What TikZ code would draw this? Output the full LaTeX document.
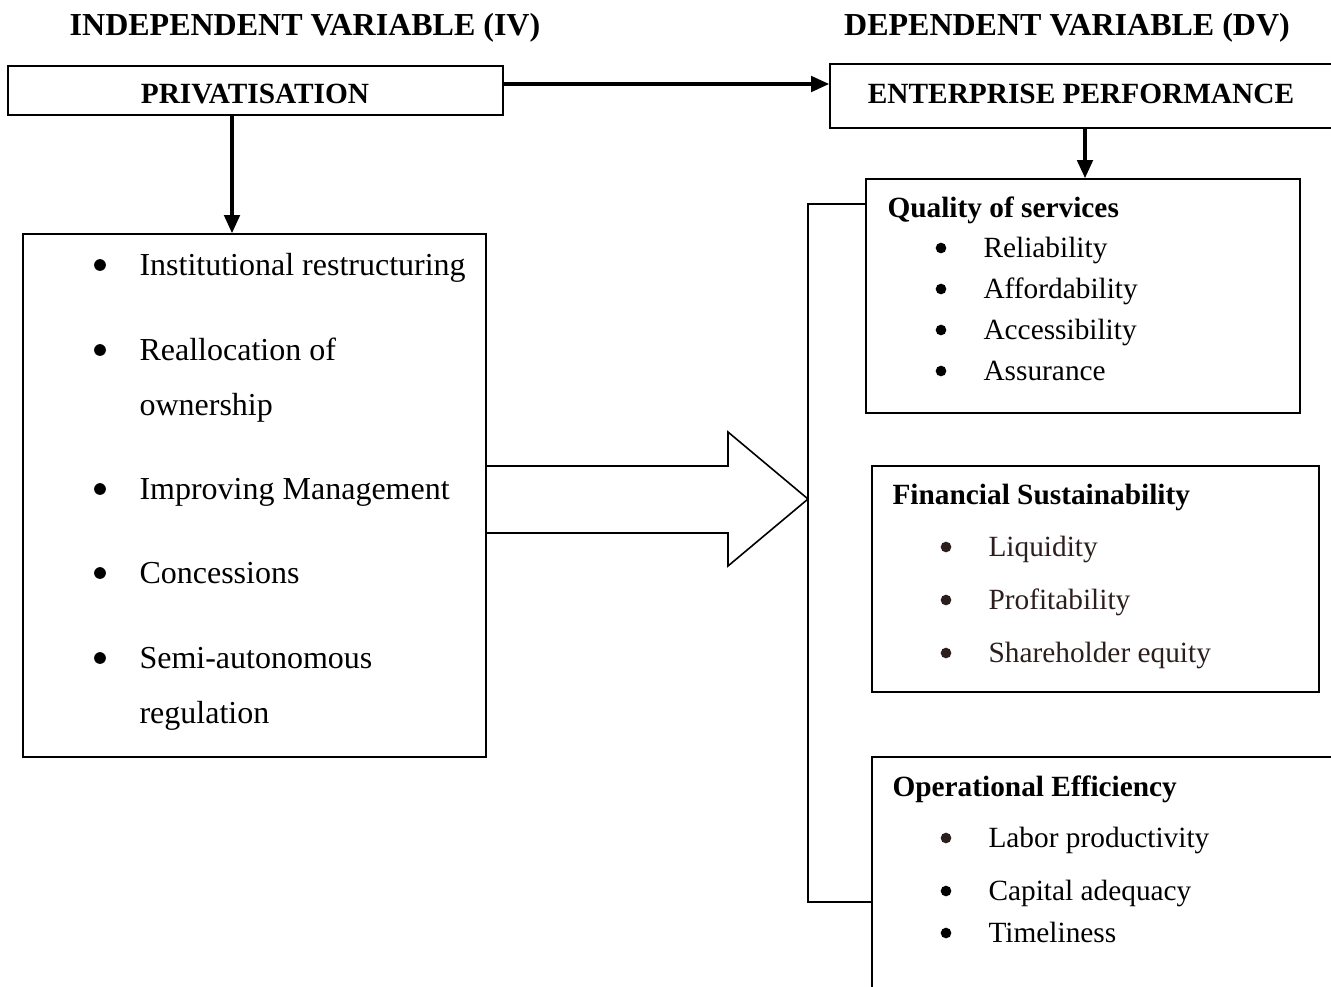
\documentclass[tikz,border=0pt]{standalone}
\usepackage{fontspec}
\setmainfont{Liberation Serif}
\usetikzlibrary{arrows.meta,calc}
\definecolor{dbrown}{RGB}{45,30,30}
\tikzset{
  box/.style={draw, line width=0.6pt, rectangle, inner sep=0pt},
  arr/.style={line width=1.3pt, -{Triangle[length=6.8pt,width=5.8pt]}},
  thin/.style={line width=0.6pt},
  head/.style={font=\fontsize{12}{14}\selectfont\bfseries, anchor=base},
  litem/.style={font=\fontsize{12}{14}\selectfont, anchor=base west, inner sep=0pt},
  lbul/.style={circle, fill, inner sep=0pt, minimum size=4.4pt},
  rtitle/.style={font=\fontsize{11}{13}\selectfont\bfseries, anchor=base west, inner sep=0pt},
  ritem/.style={font=\fontsize{11}{13}\selectfont, anchor=base west, inner sep=0pt},
  rbul/.style={circle, fill, inner sep=0pt, minimum size=4pt},
}
\begin{document}
\begin{tikzpicture}[x=0.375pt,y=-0.375pt]
\useasboundingbox (0,0) rectangle (1331,986);
% headings
\node[head] (hiv) at (305,35) {INDEPENDENT VARIABLE (IV)};
\node[head] (hdv) at (1067,35) {DEPENDENT VARIABLE (DV)};
% top boxes
\node[box, minimum width=495*0.375pt, minimum height=49*0.375pt] (priv) at (255.5,90.5) {};
\node[font=\fontsize{11}{13}\selectfont\bfseries] (privt) at (255,94) {PRIVATISATION};
\node[box, minimum width=510*0.375pt, minimum height=64*0.375pt] (ent) at (1085,96) {};
\node[font=\fontsize{11}{13}\selectfont\bfseries] (entt) at (1081,94) {ENTERPRISE PERFORMANCE};
% left box
\node[box, minimum width=463*0.375pt, minimum height=523*0.375pt] (lbox) at (254.5,495.5) {};
% right boxes
\node[box, minimum width=434*0.375pt, minimum height=234*0.375pt] (qbox) at (1083,296) {};
\node[box, minimum width=447*0.375pt, minimum height=226*0.375pt] (fbox) at (1095.5,579) {};
\node[box, minimum width=473*0.375pt, minimum height=243*0.375pt] (obox) at (1108.5,878.5) {};
% connectors
\draw[arr] (priv.east |- 0,84) -- (ent.west |- 0,84);
\draw[arr] (priv.south -| 232,0) -- (lbox.north -| 232,0);
\draw[arr] (ent.south) -- (ent.south |- qbox.north);
% big arrow
\coordinate (tip) at (808,499);
\draw[thin, line join=miter] (lbox.east |- 0,466) -- (728,466) -- (728,432) -- (tip) -- (728,566) -- (728,533) -- (lbox.east |- 0,533);
% bracket
\draw[thin] (qbox.west |- 0,204) -- (808,204) -- (808,902) -- (obox.west |- 0,902);
% left items
\foreach \y/\t [count=\i] in {275/Institutional restructuring, 360/Reallocation of, 499/Improving Management, 583/Concessions, 668/Semi-autonomous}{
  \node[lbul] (lb\i) at (100,\y-10) {};
  \node[litem] (lt\i) at (139,\y) {\t};
}
\node[litem] (lt2b) at (139,415) {ownership};
\node[litem] (lt5b) at (139,723) {regulation};
% quality
\node[rtitle] (qt) at (887,217) {Quality of services};
\foreach \y/\t [count=\i] in {257/Reliability, 298/Affordability, 339/Accessibility, 380/Assurance}{
  \node[rbul] (qb\i) at (941,\y-9) {};
  \node[ritem] (qi\i) at (983,\y) {\t};
}
% financial
\node[rtitle] (ft) at (892,504) {Financial Sustainability};
\foreach \y/\t [count=\i] in {556/Liquidity, 609/Profitability, 662/Shareholder equity}{
  \node[rbul, fill=dbrown] (fb\i) at (946,\y-9) {};
  \node[ritem, text=dbrown] (fi\i) at (988,\y) {\t};
}
% operational
\node[rtitle] (ot) at (892,796) {Operational Efficiency};
\node[rbul, fill=dbrown] (ob1) at (946,838) {};
\node[ritem] (oi1) at (988,847) {Labor productivity};
\node[rbul] (ob2) at (946,891) {};
\node[ritem] (oi2) at (988,900) {Capital adequacy};
\node[rbul] (ob3) at (946,933) {};
\node[ritem] (oi3) at (988,942) {Timeliness};
\end{tikzpicture}
\end{document}
